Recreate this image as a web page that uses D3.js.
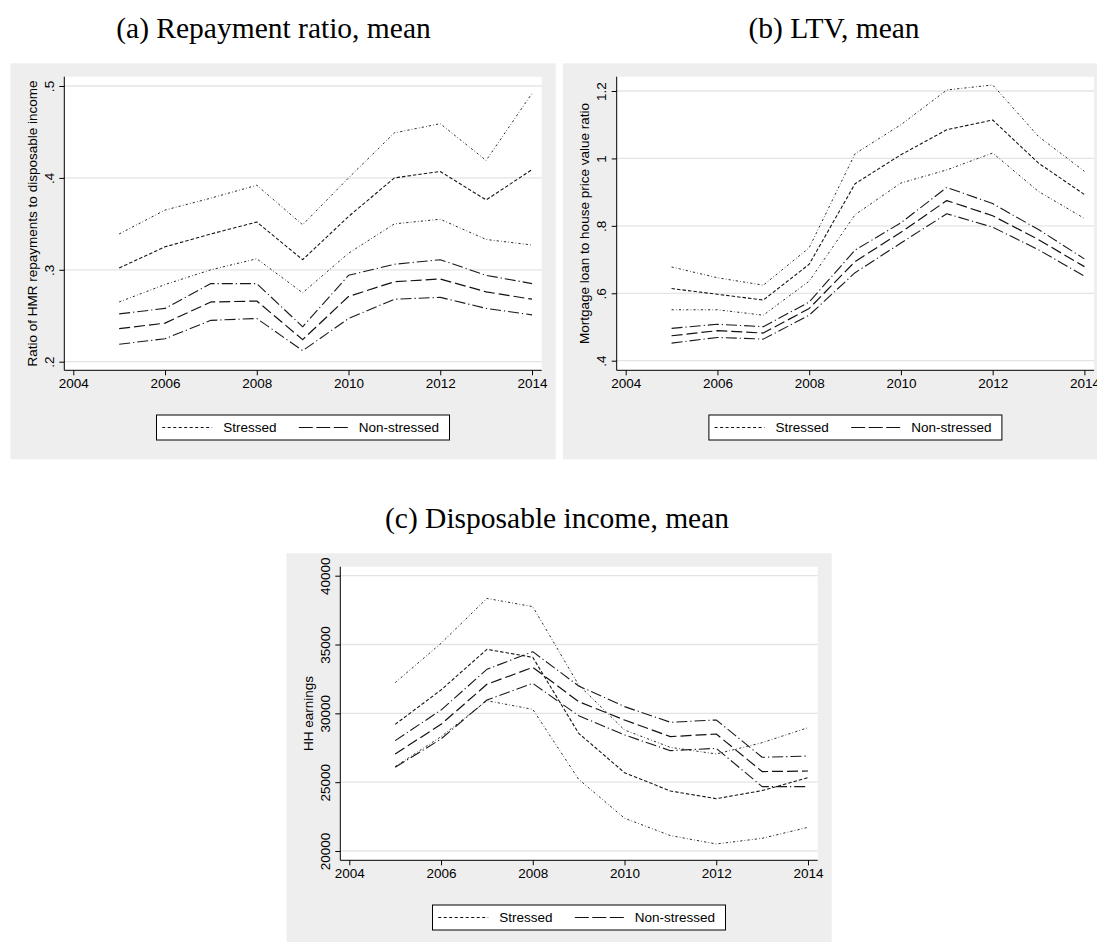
<!DOCTYPE html>
<html>
<head>
<meta charset="utf-8">
<script src="https://cdn.jsdelivr.net/npm/d3@7"></script>
<style>
  html, body { margin: 0; padding: 0; background: #ffffff; overflow: hidden; }
  svg { display: block; }
  text { fill: #000; }
</style>
</head>
<body>
<svg id="chart" width="1097" height="942"></svg>
<script>
// ---------------- DATA ----------------
const years = [2005, 2006, 2007, 2008, 2009, 2010, 2011, 2012, 2013, 2014];
const xTicks = [2004, 2006, 2008, 2010, 2012, 2014];
const legendLabels = ["Stressed", "Non-stressed"];

const panelTitles = ["(a) Repayment ratio, mean", "(b) LTV, mean", "(c) Disposable income, mean"];
const yAxisTitles = ["Ratio of HMR repayments to disposable income",
                     "Mortgage loan to house price value ratio",
                     "HH earnings"];

// (a) Repayment ratio
const repayTicks = [0.2, 0.3, 0.4, 0.5];
const repayTickLabels = [".2", ".3", ".4", ".5"];
const repayStressedUpper = [0.339, 0.365, 0.378, 0.392, 0.349, 0.400, 0.449, 0.459, 0.419, 0.492];
const repayStressedMean  = [0.302, 0.325, 0.339, 0.352, 0.311, 0.358, 0.400, 0.407, 0.376, 0.409];
const repayStressedLower = [0.265, 0.284, 0.300, 0.312, 0.275, 0.318, 0.350, 0.355, 0.333, 0.327];
const repayNonUpper = [0.252, 0.258, 0.285, 0.285, 0.238, 0.294, 0.306, 0.311, 0.294, 0.285];
const repayNonMean  = [0.236, 0.242, 0.265, 0.266, 0.224, 0.271, 0.287, 0.290, 0.276, 0.268];
const repayNonLower = [0.219, 0.225, 0.245, 0.247, 0.212, 0.247, 0.268, 0.270, 0.258, 0.251];

// (b) LTV
const ltvTicks = [0.4, 0.6, 0.8, 1.0, 1.2];
const ltvTickLabels = [".4", ".6", ".8", "1", "1.2"];
const ltvStressedUpper = [0.678, 0.646, 0.624, 0.735, 1.014, 1.100, 1.203, 1.218, 1.065, 0.962];
const ltvStressedMean  = [0.614, 0.597, 0.580, 0.686, 0.925, 1.011, 1.085, 1.114, 0.986, 0.893];
const ltvStressedLower = [0.551, 0.551, 0.535, 0.636, 0.833, 0.927, 0.966, 1.016, 0.902, 0.822];
const ltvNonUpper = [0.496, 0.508, 0.501, 0.574, 0.728, 0.809, 0.914, 0.866, 0.789, 0.702];
const ltvNonMean  = [0.474, 0.489, 0.482, 0.555, 0.694, 0.781, 0.875, 0.830, 0.759, 0.679];
const ltvNonLower = [0.452, 0.469, 0.464, 0.535, 0.661, 0.749, 0.836, 0.796, 0.729, 0.651];

// (c) Disposable income
const incTicks = [20000, 25000, 30000, 35000, 40000];
const incTickLabels = ["20000", "25000", "30000", "35000", "40000"];
const incStressedUpper = [32230, 35090, 38350, 37750, 32060, 28790, 27530, 27050, 27870, 28960];
const incStressedMean  = [29200, 31700, 34650, 34070, 28550, 25690, 24360, 23800, 24390, 25330];
const incStressedLower = [26130, 28310, 30920, 30290, 25210, 22380, 21120, 20510, 20920, 21720];
const incNonUpper = [28020, 30240, 33200, 34480, 31990, 30490, 29350, 29520, 26810, 26900];
const incNonMean  = [27050, 29200, 32110, 33340, 30850, 29520, 28310, 28500, 25770, 25810];
const incNonLower = [26080, 28140, 30970, 32180, 29830, 28430, 27290, 27460, 24680, 24680];

// ---------------- STYLES / LAYOUT ----------------
const styles = {
  sCI:   { dash: "2.2,2.2,0.7,2.2", w: 1.0, color: "#2b2b2b" },
  sMean: { dash: "3.5,2",           w: 1.1, color: "#151515" },
  nCI:   { dash: "11,3,1.2,3",      w: 1.1, color: "#1a1a1a" },
  nMean: { dash: "11,4",            w: 1.2, color: "#111111" }
};

const panels = [
  { title: panelTitles[0], ytitle: yAxisTitles[0], gx: 10.5, gy: 63.3, titleX: 273.5, titleY: 37.5,
    ticks: repayTicks, tickLabels: repayTickLabels, yPix: [298.4, 22.7],
    series: [[repayStressedUpper, "sCI"], [repayStressedMean, "sMean"], [repayStressedLower, "sCI"],
             [repayNonUpper, "nCI"], [repayNonMean, "nMean"], [repayNonLower, "nCI"]] },
  { title: panelTitles[1], ytitle: yAxisTitles[1], gx: 562.9, gy: 63.3, titleX: 834, titleY: 37.5,
    ticks: ltvTicks, tickLabels: ltvTickLabels, yPix: [297.4, 27.7],
    series: [[ltvStressedUpper, "sCI"], [ltvStressedMean, "sMean"], [ltvStressedLower, "sCI"],
             [ltvNonUpper, "nCI"], [ltvNonMean, "nMean"], [ltvNonLower, "nCI"]] },
  { title: panelTitles[2], ytitle: yAxisTitles[2], gx: 286.5, gy: 553.3, titleX: 557, titleY: 527.5,
    ticks: incTicks, tickLabels: incTickLabels, yPix: [297.7, 22.4],
    series: [[incStressedUpper, "sCI"], [incStressedMean, "sMean"], [incStressedLower, "sCI"],
             [incNonUpper, "nCI"], [incNonMean, "nMean"], [incNonLower, "nCI"]] }
];

const svg = d3.select("#chart");
const sansFont = "'Liberation Sans', Arial, Helvetica, sans-serif";
const serifFont = "'Liberation Serif', 'Times New Roman', serif";
const fs = 13.5;

panels.forEach(p => {
  const g = svg.append("g").attr("transform", `translate(${p.gx},${p.gy})`);
  const W = 545.2, H = 396;
  const pl = 53.8, pr = 531.2, pt = 13.4, pb = 307;

  // title
  svg.append("text")
    .attr("x", p.titleX).attr("y", p.titleY)
    .attr("text-anchor", "middle")
    .style("font-family", serifFont).style("font-size", "29.5px")
    .text(p.title);

  // backgrounds
  g.append("rect").attr("x", 0).attr("y", 0).attr("width", W).attr("height", H).attr("fill", "#eeeeee");
  g.append("rect").attr("x", pl).attr("y", pt).attr("width", pr - pl).attr("height", pb - pt).attr("fill", "#ffffff");

  const x = d3.scaleLinear().domain([2004, 2014]).range([pl + 9, pl + 467.7]);
  const y = d3.scaleLinear().domain([p.ticks[0], p.ticks[p.ticks.length - 1]]).range(p.yPix);

  // gridlines
  g.append("g").selectAll("line").data(p.ticks).join("line")
    .attr("x1", pl).attr("x2", pr)
    .attr("y1", d => y(d)).attr("y2", d => y(d))
    .attr("stroke", "#e4e4e4").attr("stroke-width", 1.3);

  // y axis
  const yAxis = d3.axisLeft(y).tickValues(p.ticks).tickSize(5).tickPadding(0)
    .tickFormat((d, i) => p.tickLabels[i]);
  const ya = g.append("g").attr("transform", `translate(${pl},0)`).call(yAxis);
  ya.select(".domain").attr("d", `M0,${pt}V${pb}`).attr("stroke", "#000").attr("stroke-width", 1);
  ya.selectAll(".tick line").attr("stroke", "#000");
  ya.selectAll(".tick text")
    .attr("x", null).attr("dy", null)
    .attr("transform", "translate(-15.3,0) rotate(-90)")
    .attr("text-anchor", "middle").attr("dy", "0.35em")
    .style("font-family", sansFont).style("font-size", fs + "px").attr("fill", "#000");

  // x axis
  const xAxis = d3.axisBottom(x).tickValues(xTicks).tickSize(5).tickPadding(3.5).tickFormat(d3.format("d"));
  const xa = g.append("g").attr("transform", `translate(0,${pb})`).call(xAxis);
  xa.select(".domain").attr("d", `M${pl},0H${pr}`).attr("stroke", "#000").attr("stroke-width", 1);
  xa.selectAll(".tick line").attr("stroke", "#000");
  xa.selectAll(".tick text")
    .style("font-family", sansFont).style("font-size", fs + "px").attr("fill", "#000");

  // y axis title
  g.append("text")
    .attr("transform", `translate(21.5,${(pt + pb) / 2}) rotate(-90)`)
    .attr("text-anchor", "middle").attr("dy", "0.35em")
    .style("font-family", sansFont).style("font-size", fs + "px")
    .text(p.ytitle);

  // lines
  const line = d3.line().x((d, i) => x(years[i])).y(d => y(d));
  p.series.forEach(([vals, key]) => {
    const s = styles[key];
    g.append("path").datum(vals)
      .attr("d", line)
      .attr("fill", "none")
      .attr("stroke", s.color).attr("stroke-width", s.w)
      .attr("stroke-dasharray", s.dash)
      .attr("stroke-linejoin", "round");
  });

  // legend
  const lw = 293, lh = 25;
  const lx = (pl + pr) / 2 - lw / 2, ly = 351.7;
  const lg = g.append("g").attr("transform", `translate(${lx},${ly})`);
  lg.append("rect").attr("x", 0).attr("y", 0).attr("width", lw).attr("height", lh)
    .attr("fill", "#fff").attr("stroke", "#000").attr("stroke-width", 1);
  const legendItems = [
    { label: legendLabels[0], style: "sMean", x0: 5.7, tx: 66.7, dash: "3,2.5" },
    { label: legendLabels[1], style: "nMean", x0: 142.3, tx: 202.3, dash: "14,3.5" }
  ];
  legendItems.forEach(it => {
    lg.append("line").attr("x1", it.x0).attr("x2", it.x0 + 50)
      .attr("y1", lh / 2).attr("y2", lh / 2)
      .attr("stroke", "#111").attr("stroke-width", 1.1)
      .attr("stroke-dasharray", it.dash);
    lg.append("text").attr("x", it.tx).attr("y", lh / 2).attr("dy", "0.35em")
      .style("font-family", sansFont).style("font-size", fs + "px")
      .text(it.label);
  });
});
</script>
</body>
</html>
